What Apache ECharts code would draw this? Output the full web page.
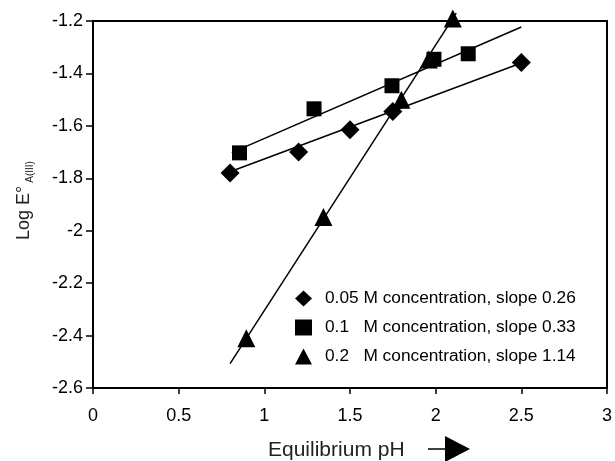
<!DOCTYPE html>
<html>
<head>
<meta charset="utf-8">
<script src="https://cdn.jsdelivr.net/npm/echarts@6/dist/echarts.min.js"></script>
<style>
  html, body { margin: 0; padding: 0; background: #fff; }
  #chart { width: 615px; height: 461px; }
</style>
</head>
<body>
<div id="chart"></div>
<script>
// measured points: [pH, log E]
const conc005 = [[0.8, -1.78], [1.2, -1.70], [1.5, -1.615], [1.75, -1.545], [2.5, -1.358]];
const conc01 = [[0.855, -1.703], [1.29, -1.535], [1.745, -1.447], [1.99, -1.346], [2.19, -1.325]];
const conc02 = [[0.895, -2.41], [1.345, -1.948], [1.8, -1.50], [1.96, -1.347], [2.1, -1.19]];

// fitted straight lines (end points)
const fit005 = [[0.8, -1.775], [2.5, -1.36]];
const fit01 = [[0.81, -1.702], [2.5, -1.223]];
const fit02 = [[0.8, -2.507], [2.12, -1.17]];

const legendNames = [
  '0.05 M concentration, slope 0.26',
  '0.1   M concentration, slope 0.33',
  '0.2   M concentration, slope 1.14'
];

const font = 'Liberation Sans, Arial, sans-serif';
const chart = echarts.init(document.getElementById('chart'));

const fitLine = (data) => ({
  type: 'line',
  data: data,
  symbol: 'none',
  silent: true,
  clip: false,
  lineStyle: { color: '#000', width: 1.5 },
  z: 1
});

const points = (name, data, symbol, size) => ({
  name: name,
  type: 'scatter',
  data: data,
  symbol: symbol,
  symbolSize: size,
  clip: false,
  itemStyle: { color: '#000', opacity: 1 },
  z: 3
});

chart.setOption({
  animation: false,
  backgroundColor: '#fff',
  grid: {
    left: 93, right: 6, top: 21, bottom: 73,
    show: true, borderColor: '#000', borderWidth: 2
  },
  legend: {
    orient: 'vertical',
    left: 290, top: 285,
    itemWidth: 17, itemHeight: 16, itemGap: 12,
    data: legendNames,
    textStyle: { fontFamily: font, fontSize: 17.3, color: '#000', padding: [0, 0, 0, 8] }
  },
  xAxis: {
    type: 'value',
    min: 0, max: 3, interval: 0.5,
    splitLine: { show: false },
    axisLine: { lineStyle: { color: '#000', width: 2 } },
    axisTick: { length: 6, lineStyle: { color: '#000', width: 1.5 } },
    axisLabel: { fontFamily: font, fontSize: 18, color: '#000', margin: 19 }
  },
  yAxis: {
    type: 'value',
    min: -2.6, max: -1.2, interval: 0.2,
    splitLine: { show: false },
    axisLine: { onZero: false, lineStyle: { color: '#000', width: 2 } },
    axisTick: { length: 7, lineStyle: { color: '#000', width: 1.5 } },
    axisLabel: {
      fontFamily: font, fontSize: 18, color: '#000', margin: 10,
      formatter: (v) => String(Math.round(v * 10) / 10)
    },
    name: '{m|Log E°}{s|A(III)}',
    nameLocation: 'middle',
    nameGap: 58,
    nameRotate: 90,
    nameTextStyle: {
      padding: [0, 0, 0, 8],
      rich: {
        m: { fontFamily: font, fontSize: 18, color: '#222', lineHeight: 22 },
        s: { fontFamily: font, fontSize: 10, color: '#222', verticalAlign: 'bottom', lineHeight: 22, padding: [9, 0, 0, 3] }
      }
    }
  },
  graphic: [
    {
      type: 'text', x: 268, y: 450,
      style: { text: 'Equilibrium pH', font: '21px ' + font, fill: '#222', verticalAlign: 'middle' }
    },
    {
      type: 'line', shape: { x1: 428, y1: 449, x2: 447, y2: 449 },
      style: { stroke: '#000', lineWidth: 1.5 }
    },
    {
      type: 'polygon', shape: { points: [[445, 436], [470, 449], [445, 462]] },
      style: { fill: '#000' }
    }
  ],
  series: [
    fitLine(fit005),
    fitLine(fit01),
    fitLine(fit02),
    points(legendNames[0], conc005, 'diamond', 19),
    points(legendNames[1], conc01, 'rect', 15),
    points(legendNames[2], conc02, 'triangle', 18)
  ]
});
</script>
</body>
</html>
